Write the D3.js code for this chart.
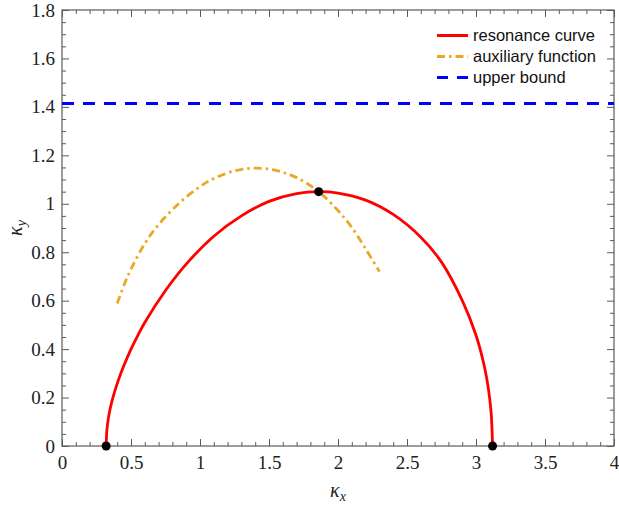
<!DOCTYPE html>
<html>
<head>
<meta charset="utf-8">
<script src="https://cdn.jsdelivr.net/npm/d3@7"></script>
<style>
  body { margin: 0; background: #fff; }
  svg { display: block; }
</style>
</head>
<body>
<svg id="chart" width="619" height="506"></svg>
<script>
// ---- data ----
const resonanceX = [0.32, 0.325, 0.335, 0.35, 0.375, 0.408, 0.45, 0.50, 0.55, 0.60, 0.75, 0.90, 1.10, 1.30, 1.50, 1.70, 1.86, 2.00, 2.20, 2.40, 2.60, 2.75, 2.90, 3.00, 3.06, 3.09, 3.11, 3.12];
const resonanceY = [0.0, 0.064, 0.111, 0.157, 0.212, 0.271, 0.334, 0.40, 0.457, 0.51, 0.642, 0.751, 0.866, 0.95, 1.01, 1.042, 1.05, 1.044, 1.015, 0.956, 0.862, 0.759, 0.601, 0.457, 0.33, 0.236, 0.135, 0.0];
const auxX = [0.40, 0.45, 0.50, 0.60, 0.70, 0.85, 1.00, 1.10, 1.25, 1.40, 1.55, 1.70, 1.86, 2.00, 2.10, 2.20, 2.30];
const auxY = [0.588, 0.665, 0.73, 0.836, 0.914, 1.003, 1.071, 1.104, 1.136, 1.147, 1.138, 1.108, 1.05, 0.972, 0.902, 0.814, 0.72];
const upperBound = 1.414;
const markerX = [0.32, 1.86, 3.12];
const markerY = [0.0, 1.05, 0.0];
const xMajorTicks = [0, 0.5, 1, 1.5, 2, 2.5, 3, 3.5, 4];
const yMajorTicks = [0, 0.2, 0.4, 0.6, 0.8, 1, 1.2, 1.4, 1.6, 1.8];
const legendLabels = ["resonance curve", "auxiliary function", "upper bound"];

// ---- layout ----
const svg = d3.select("#chart");
const pL = 62, pT = 10, pR = 614, pB = 446;
const x = d3.scaleLinear().domain([0, 4]).range([pL, pR]);
const y = d3.scaleLinear().domain([0, 1.8]).range([pB, pT]);

const xMinor = d3.range(0, 4.0001, 0.1).map(v => +v.toFixed(2)).filter(v => !xMajorTicks.some(m => Math.abs(m - v) < 1e-6));
const yMinor = d3.range(0, 1.8001, 0.05).map(v => +v.toFixed(3)).filter(v => !yMajorTicks.some(m => Math.abs(m - v) < 1e-6));
const fmt = d3.format("~g");
const axisColor = "#5a5a5a";
const serifFont = "'Liberation Serif', 'Times New Roman', Times, 'DejaVu Serif', 'Noto Serif', serif";

function styleAxis(g) {
  g.attr("font-family", null).attr("font-size", null);
  g.select(".domain").remove();
  g.selectAll(".tick line").attr("stroke", axisColor).attr("stroke-width", 1);
  g.selectAll(".tick text").attr("fill", "#222")
    .style("font-family", serifFont).style("font-size", "19px");
}

// bottom axis
svg.append("g").attr("transform", `translate(0,${pB})`)
  .call(d3.axisBottom(x).tickValues(xMajorTicks).tickSize(-7).tickPadding(10).tickFormat(fmt)).call(styleAxis);
svg.append("g").attr("transform", `translate(0,${pB})`)
  .call(d3.axisBottom(x).tickValues(xMinor).tickSize(-4).tickFormat("")).call(styleAxis);
// top axis
svg.append("g").attr("transform", `translate(0,${pT})`)
  .call(d3.axisTop(x).tickValues(xMajorTicks).tickSize(-7).tickFormat("")).call(styleAxis);
svg.append("g").attr("transform", `translate(0,${pT})`)
  .call(d3.axisTop(x).tickValues(xMinor).tickSize(-4).tickFormat("")).call(styleAxis);
// left axis
svg.append("g").attr("transform", `translate(${pL},0)`)
  .call(d3.axisLeft(y).tickValues(yMajorTicks).tickSize(-7).tickPadding(7).tickFormat(fmt)).call(styleAxis);
svg.append("g").attr("transform", `translate(${pL},0)`)
  .call(d3.axisLeft(y).tickValues(yMinor).tickSize(-4).tickFormat("")).call(styleAxis);
// right axis
svg.append("g").attr("transform", `translate(${pR},0)`)
  .call(d3.axisRight(y).tickValues(yMajorTicks).tickSize(-7).tickFormat("")).call(styleAxis);
svg.append("g").attr("transform", `translate(${pR},0)`)
  .call(d3.axisRight(y).tickValues(yMinor).tickSize(-4).tickFormat("")).call(styleAxis);

// frame
svg.append("rect").attr("x", pL).attr("y", pT).attr("width", pR - pL).attr("height", pB - pT)
  .attr("fill", "none").attr("stroke", axisColor).attr("stroke-width", 1.2);

// clip
svg.append("clipPath").attr("id", "clip").append("rect")
  .attr("x", pL).attr("y", pT).attr("width", pR - pL).attr("height", pB - pT);
const plot = svg.append("g").attr("clip-path", "url(#clip)");

const line = d3.line().x(d => x(d[0])).y(d => y(d[1])).curve(d3.curveCatmullRom.alpha(0.5));

// upper bound
plot.append("line")
  .attr("x1", x(0)).attr("x2", x(4)).attr("y1", y(upperBound)).attr("y2", y(upperBound))
  .attr("stroke", "#0000ff").attr("stroke-width", 3).attr("stroke-dasharray", "12,9");

// auxiliary
plot.append("path").datum(auxX.map((v, i) => [v, auxY[i]]))
  .attr("d", line).attr("fill", "none").attr("stroke", "#e9a825").attr("stroke-width", 2.8)
  .attr("stroke-dasharray", "8,4,2.5,4");

// resonance
plot.append("path").datum(resonanceX.map((v, i) => [v, resonanceY[i]]))
  .attr("d", line).attr("fill", "none").attr("stroke", "#ff0000").attr("stroke-width", 2.8);

// markers
svg.append("g").selectAll("circle").data(markerX.map((v, i) => [v, markerY[i]])).join("circle")
  .attr("cx", d => x(d[0])).attr("cy", d => y(d[1])).attr("r", 4.5).attr("fill", "#000");

// axis titles
const xt = svg.append("text").attr("x", (pL + pR) / 2).attr("y", 497).attr("text-anchor", "middle")
  .style("font-family", serifFont).style("font-size", "20px").style("font-style", "italic").attr("fill", "#222");
xt.append("tspan").text("κ");
xt.append("tspan").attr("dy", 4).style("font-size", "14px").text("x");

const yt = svg.append("text").attr("transform", `translate(22,${(pT + pB) / 2}) rotate(-90)`).attr("text-anchor", "middle")
  .style("font-family", serifFont).style("font-size", "20px").style("font-style", "italic").attr("fill", "#222");
yt.append("tspan").text("κ");
yt.append("tspan").attr("dy", 4).style("font-size", "14px").text("y");

// legend
const legendStyles = [
  { color: "#ff0000", dash: null },
  { color: "#e9a825", dash: "8,4,2.5,4" },
  { color: "#0000ff", dash: "11,9" }
];
const lg = svg.append("g");
legendLabels.forEach((lab, i) => {
  const cy = 35.5 + i * 21;
  lg.append("line").attr("x1", 437).attr("x2", 468).attr("y1", cy).attr("y2", cy)
    .attr("stroke", legendStyles[i].color).attr("stroke-width", 3)
    .attr("stroke-dasharray", legendStyles[i].dash);
  lg.append("text").attr("x", 473).attr("y", cy).attr("dy", "0.35em").text(lab)
    .style("font-family", "'Liberation Sans', Arial, sans-serif").style("font-size", "16.5px").attr("fill", "#111");
});
</script>
</body>
</html>
